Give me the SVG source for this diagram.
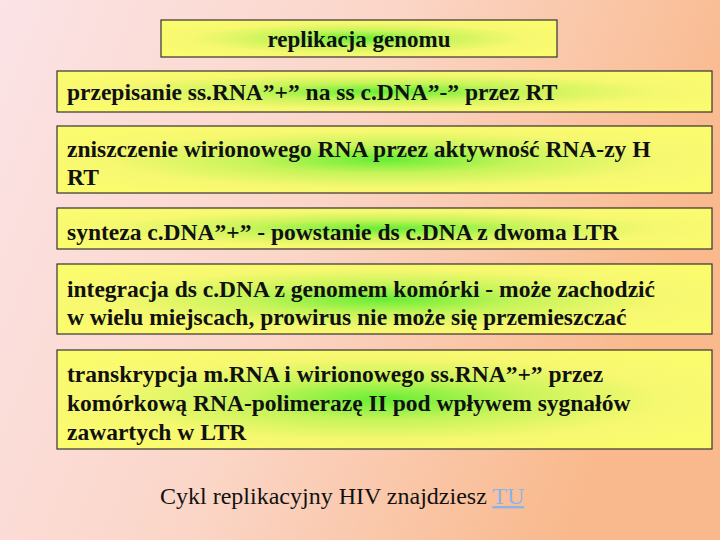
<svg xmlns="http://www.w3.org/2000/svg" width="720" height="540" viewBox="0 0 720 540">
<defs>
<linearGradient id="bg" x1="0" y1="0" x2="1" y2="0.3">
<stop offset="0" stop-color="#fbe3e6"/><stop offset="0.5" stop-color="#fbd6c8"/><stop offset="1" stop-color="#f9b98c"/>
</linearGradient>
<radialGradient id="box" cx="0.5" cy="0.5" r="0.6">
<stop offset="0" stop-color="#66ee33"/><stop offset="0.35" stop-color="#c8f45a"/><stop offset="0.7" stop-color="#f6f870"/><stop offset="1" stop-color="#fbfb6e"/>
</radialGradient>
<style>
.b{fill:url(#box);stroke:#333;stroke-width:1.2}
.t{font-family:"Liberation Serif",serif;font-size:23.5px;font-weight:bold;fill:#111}
</style>
</defs>
<rect width="720" height="540" fill="url(#bg)"/>
<g id="n1"><rect class="b" x="161" y="20" width="396" height="37"/><text x="359" y="47" text-anchor="middle" style="font-family:'Liberation Serif',serif;font-size:23px;font-weight:bold;fill:#111">replikacja genomu</text></g>
<g id="n2"><rect class="b" x="57" y="71" width="655" height="41"/><text class="t" x="67" y="100">przepisanie ss.RNA”+” na ss c.DNA”-” przez RT</text></g>
<g id="n3"><rect class="b" x="57" y="126" width="655" height="67"/><text class="t" x="67" y="157">zniszczenie wirionowego RNA przez aktywność RNA-zy H</text><text class="t" x="67" y="185">RT</text></g>
<g id="n4"><rect class="b" x="57" y="208" width="655" height="41"/><text class="t" x="67" y="240">synteza c.DNA”+” - powstanie ds c.DNA z dwoma LTR</text></g>
<g id="n5"><rect class="b" x="57" y="264" width="655" height="70"/><text class="t" x="67" y="297">integracja ds c.DNA z genomem komórki - może zachodzić</text><text class="t" x="67" y="325">w wielu miejscach, prowirus nie może się przemieszczać</text></g>
<g id="n6"><rect class="b" x="57" y="350" width="655" height="99"/><text class="t" x="67" y="382">transkrypcja m.RNA i wirionowego ss.RNA”+” przez</text><text class="t" x="67" y="411">komórkową RNA-polimerazę II pod wpływem sygnałów</text><text class="t" x="67" y="440">zawartych w LTR</text></g>
<g id="connectors"/>
<text x="160" y="504" style="font-family:'Liberation Serif',serif;font-size:24px;fill:#111">Cykl replikacyjny HIV znajdziesz <tspan fill="#8ab4e8" text-decoration="underline">TU</tspan></text>
</svg>
